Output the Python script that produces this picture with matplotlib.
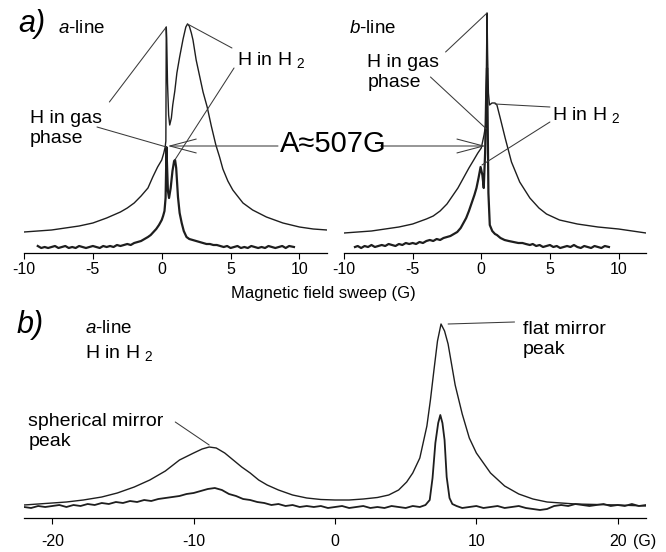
import matplotlib
matplotlib.use('Agg')
import matplotlib.pyplot as plt

plt.rcParams['font.family'] = ['Liberation Sans', 'DejaVu Sans']
plt.rcParams['mathtext.fontset'] = 'custom'
plt.rcParams['mathtext.rm'] = 'Liberation Sans'
plt.rcParams['mathtext.it'] = 'Liberation Sans:italic'
plt.rcParams['axes.unicode_minus'] = False

# ---- data (field in G, intensity in arbitrary units) ----
# a) a-line, broad trace
a_up_x = [-10, -9, -8, -7, -6, -5, -4, -3, -2.5, -2, -1.5, -1, -0.65, -0.3, 0,
          0.15, 0.25, 0.3, 0.33, 0.36, 0.42, 0.5, 0.58, 0.7, 0.8,
          0.95, 1.1, 1.3, 1.55, 1.75, 1.87, 2.0, 2.15, 2.27, 2.5,
          2.75, 3.0, 3.3, 3.6, 3.93, 4.2, 4.44, 4.8, 5.16, 5.5,
          5.9, 6.6, 7.6, 8.8, 10, 11, 12]
a_up_y = [21, 22, 23, 25, 27, 30, 35, 41, 45, 50, 57, 65, 76, 86, 93,
          100, 106, 112, 226, 215, 170, 138, 128, 135, 148,
          162, 180, 196, 214, 226, 229, 227, 220, 213, 193,
          177, 161, 146, 127, 108, 96, 84, 72, 63, 57,
          50, 43, 36, 30, 26, 24, 23]

# a) a-line, narrow (noisy) trace
a_low_x = [-9.0, -8.75, -8.5, -8.25, -8.0, -7.75, -7.5, -7.25, -7.0, -6.75,
           -6.5, -6.25, -6.0, -5.75, -5.5, -5.25, -5.0, -4.75, -4.5, -4.25,
           -4.0, -3.75, -3.5, -3.25, -3.0, -2.75, -2.5, -2.25, -2.0,
           -1.75, -1.5, -1.25, -1.0,
           -0.8, -0.6, -0.4, -0.2, 0.0,
           0.1, 0.2, 0.28, 0.32, 0.34, 0.38, 0.45, 0.53, 0.65, 0.78,
           0.9, 0.97, 1.05, 1.18, 1.3, 1.45, 1.6, 1.8,
           2.0, 2.25, 2.5, 2.75, 3.0, 3.25, 3.5, 3.75, 4.0, 4.25,
           4.5, 4.75, 5.0, 5.25, 5.5, 5.75, 6.0, 6.25, 6.5, 6.75,
           7.0, 7.25, 7.5, 7.75, 8.0, 8.25, 8.5, 8.75, 9.0, 9.25,
           9.6]
a_low_y = [7, 5, 6, 5, 6, 7, 5, 6, 7, 5,
           6, 5, 7, 6, 5, 6, 7, 6, 5, 7,
           6, 7, 6, 8, 7, 8, 9, 8, 10,
           11, 12, 14, 16,
           18, 21, 24, 28, 33,
           37, 42, 55, 85, 106, 90, 62, 55, 65, 82,
           92, 93, 85, 56, 40, 30, 22, 16,
           14, 13, 12, 11, 10, 9, 9, 8, 8, 7,
           6, 7, 5, 6, 7, 5, 6, 5, 7, 6,
           5, 6, 5, 7, 6, 5, 6, 7, 5, 7,
           6]

# a) b-line, broad trace
b_up_x = [-10, -9, -8, -7, -6, -5, -4,
          -3.5, -3, -2.5, -2.2, -1.7, -1.3, -0.9, -0.55, -0.25, 0,
          0.2, 0.32, 0.37, 0.42, 0.46, 0.52, 0.6, 0.78, 1.0, 1.14,
          1.38, 1.74, 2.2, 2.8, 3.54, 4.2, 4.75, 5.7, 7, 8.5,
          10, 11, 12]
b_up_y = [20, 21, 22, 24, 26, 29, 34,
          37, 42, 49, 55, 65, 75, 85, 93, 100, 105,
          118, 128, 180, 240, 200, 160, 148, 150, 150, 148,
          135, 115, 91, 71, 55, 45, 39, 33, 29, 26,
          24, 22, 20]

# a) b-line, narrow (noisy) trace
b_low_x = [-9.2, -9.0,
           -8.75, -8.5, -8.25, -8.0, -7.75, -7.5, -7.25, -7.0, -6.75, -6.5,
           -6.25, -6.0, -5.75, -5.5, -5.25, -5.0, -4.75, -4.5, -4.25, -4.0,
           -3.75, -3.5, -3.25, -3.0, -2.75, -2.5, -2.25, -2.0,
           -1.75, -1.5,
           -1.3, -1.1, -0.9, -0.7, -0.5, -0.35, -0.2, -0.05,
           0.08, 0.18, 0.28, 0.36, 0.42, 0.46, 0.52, 0.62, 0.8, 1.0,
           1.14, 1.4, 1.7, 2.0, 2.35, 2.7, 3.0,
           3.25, 3.54, 3.75,
           4.0, 4.25, 4.5, 4.75, 5.0, 5.25, 5.5, 5.75, 6.0, 6.25,
           6.5, 6.75, 7.0, 7.25, 7.5, 7.75, 8.0, 8.25, 8.5, 8.75,
           9.0, 9.3]
b_low_y = [6, 7,
           5, 7, 6, 8, 6, 7, 8, 7, 9, 8,
           7, 9, 8, 10, 9, 10, 9, 11, 10, 12,
           13, 12, 14, 13, 15, 16, 17, 19,
           21, 25,
           30, 35, 42, 50, 58, 65, 75, 86,
           78, 65, 100, 160, 185, 140, 60, 28, 22, 19,
           18, 15, 13, 12, 11, 10, 10,
           9, 8, 9,
           7, 8, 6, 7, 8, 6, 7, 5, 6, 7,
           6, 8, 6, 5, 7, 6, 5, 7, 6, 5,
           7, 6]

# b) a-line H in H2, broad trace
c_up_x = [-22, -21, -20, -19, -17.8, -16.5, -15.4, -14.2, -13.1, -12,
          -11, -10, -9.4, -8.9, -8.4, -7.8, -7.2, -6.6, -6, -5.4,
          -4.8, -4, -3, -2, -1, 0, 1, 2, 3, 3.8,
          4.5, 5.07, 5.5, 6, 6.5, 6.75, 7, 7.25, 7.5, 7.75,
          8, 8.5, 9, 9.5, 10, 11, 12, 13, 14, 15,
          17, 20, 22]
c_up_y = [13, 14, 15, 16, 18, 21, 25, 31, 38, 47,
          58, 65, 69, 71, 70, 65, 58, 51, 45, 38,
          33, 28, 23, 20, 18.5, 18, 18, 19, 20.5, 23,
          28, 36, 45, 60, 92, 118, 148, 177, 194, 187,
          174, 133, 104, 80, 65, 45, 32, 24, 19, 16,
          14, 13, 12]

# b) a-line H in H2, narrow (noisy) trace
c_low_x = [-22, -21.5, -21, -20.5, -20, -19.5, -19, -18.5, -18, -17.5,
           -17, -16.5, -16, -15.5, -15, -14.5, -14, -13.5, -13, -12.5,
           -12, -11.5, -11, -10.5, -10, -9.5, -9, -8.5, -8, -7.5,
           -7, -6.5, -6, -5.5, -5, -4.5, -4, -3.5, -3, -2.5,
           -2, -1.5, -1, -0.5, 0, 0.5, 1, 1.5, 2, 2.5,
           3, 3.5, 4, 4.5, 5, 5.5, 6,
           6.4, 6.7, 6.9, 7.1, 7.3, 7.45, 7.6, 7.75, 7.9, 8.1, 8.3, 8.6,
           9, 9.5, 10, 10.5, 11, 11.5, 12, 12.5, 13, 13.5,
           14, 14.5, 15, 15.5, 16, 16.5, 17, 17.5, 18, 18.5,
           19, 19.5, 20, 20.5, 21, 21.5, 22]
c_low_y = [11, 10, 12, 11, 12, 13, 11, 13, 12, 14,
           13, 15, 14, 16, 15, 17, 16, 18, 17, 19,
           20, 21, 22, 24, 25, 27, 29, 30, 28, 24,
           22, 19, 18, 16, 15, 13, 14, 12, 13, 11,
           12, 11, 12, 10, 11, 12, 10, 11, 12, 10,
           11, 10, 12, 11, 10, 12, 11,
           13, 18, 40, 75, 95, 103, 95, 78, 41, 20, 14, 12,
           10, 11, 12, 10, 11, 12, 10, 11, 12, 10,
           9, 8, 9, 12, 13, 12, 14, 13, 12, 13,
           14, 12, 13, 12, 14, 12, 13]

top_ticks = [-10, -5, 0, 5, 10]
bottom_ticks = [-20, -10, 0, 10, 20]

W, H = 666, 552
fig = plt.figure(figsize=(W / 100, H / 100), dpi=100)
fig.patch.set_facecolor('white')

ax1 = fig.add_axes([24 / W, (H - 253) / H, 303 / W, 245 / H])
ax2 = fig.add_axes([344 / W, (H - 253) / H, 302 / W, 245 / H])
ax3 = fig.add_axes([24 / W, (H - 518) / H, 622 / W, 205 / H])

CURVE = '#1e1e1e'
LEAD = '#3a3a3a'
FS = 14


def leader(ax, start, end):
    ax.annotate('', xy=end, xytext=start,
                arrowprops=dict(arrowstyle='-', color=LEAD, lw=0.75,
                                shrinkA=0, shrinkB=0))


def pointer(ax, start, end):
    ax.annotate('', xy=end, xytext=start,
                arrowprops=dict(arrowstyle='->,head_length=1.9,head_width=0.5',
                                color=LEAD, lw=0.75, shrinkA=0, shrinkB=0))


for ax in (ax1, ax2, ax3):
    for s in ('left', 'right', 'top'):
        ax.spines[s].set_visible(False)
    ax.spines['bottom'].set_linewidth(0.9)
    ax.set_yticks([])
    ax.patch.set_alpha(0)

for ax in (ax1, ax2):
    ax.set_xlim(-10, 12)
    ax.set_ylim(0, 245)
    ax.set_xticks(top_ticks)
    ax.tick_params(axis='x', direction='out', length=4, width=0.8,
                   pad=2.5, labelsize=11.5)

ax3.set_xlim(-22, 22)
ax3.set_ylim(0, 205)
ax3.set_xticks(bottom_ticks)
ax3.tick_params(axis='x', direction='out', length=4.3, width=0.8,
                pad=7, labelsize=11.5)

# curves
ax1.plot(a_up_x, a_up_y, color=CURVE, lw=1.0)
ax1.plot(a_low_x, a_low_y, color=CURVE, lw=1.6)
ax2.plot(b_up_x, b_up_y, color=CURVE, lw=1.0)
ax2.plot(b_low_x, b_low_y, color=CURVE, lw=1.6)
ax3.plot(c_up_x, c_up_y, color=CURVE, lw=1.0)
ax3.plot(c_low_x, c_low_y, color=CURVE, lw=1.3)

# multi-line labels: va='baseline' puts the last line on the given height
# panel a) a-line labels
ax1.text(-7.5, 220, '$a$-line', fontsize=13.5, va='baseline')
ax1.text(-9.6, 110, 'H in gas\nphase', fontsize=FS, va='baseline',
         linespacing=1.2)
ax1.text(5.45, 188, 'H in H $_{2}$', fontsize=FS, va='baseline')
leader(ax1, (-3.8, 151), (0.33, 226))
leader(ax1, (-4.7, 126), (0.34, 106))
leader(ax1, (5.1, 205), (1.87, 229))
leader(ax1, (5.25, 185), (0.95, 93))
pointer(ax1, (8.44, 107), (0.44, 107))

# panel a) b-line labels
ax2.text(-9.65, 220, '$b$-line', fontsize=13.5, va='baseline')
ax2.text(-8.3, 166, 'H in gas\nphase', fontsize=FS, va='baseline',
         linespacing=1.2)
ax2.text(5.16, 133, 'H in H $_{2}$', fontsize=FS, va='baseline')
leader(ax2, (-2.6, 201), (0.42, 240))
leader(ax2, (-3.7, 176), (0.38, 124))
leader(ax2, (5.0, 146), (1.0, 149))
leader(ax2, (5.0, 131), (0.05, 88))
pointer(ax2, (-7.35, 107), (0.3, 107))

# panel b) labels
ax3.text(-17.7, 185, '$a$-line', fontsize=13.5, va='baseline')
ax3.text(-17.7, 160, 'H in H $_{2}$', fontsize=FS, va='baseline')
ax3.text(-21.7, 72, 'spherical mirror\npeak', fontsize=FS, va='baseline',
         linespacing=1.2)
ax3.text(13.3, 164, 'flat mirror\npeak', fontsize=FS, va='baseline',
         linespacing=1.2)
leader(ax3, (-11.3, 96), (-8.9, 73))
leader(ax3, (12.7, 196), (8.0, 194))
ax3.annotate('(G)', xy=(20, 0), xycoords=('data', 'axes fraction'),
             xytext=(11, -(4.3 + 7)), textcoords='offset points',
             ha='left', va='top', fontsize=11.5)

# figure-level texts
fig.text(18 / W, 1 - 32 / H, 'a)', fontsize=22, style='italic', va='baseline')
fig.text(17 / W, 1 - 333 / H, 'b)', fontsize=22, style='italic', va='baseline')
fig.text(280 / W, 1 - 152 / H, 'A\u2248507G', fontsize=21, va='baseline')
fig.text(323 / W, 1 - 298 / H, 'Magnetic field sweep (G)', fontsize=12,
         ha='center', va='baseline')

fig.savefig('out.png', dpi=100, facecolor='white')
